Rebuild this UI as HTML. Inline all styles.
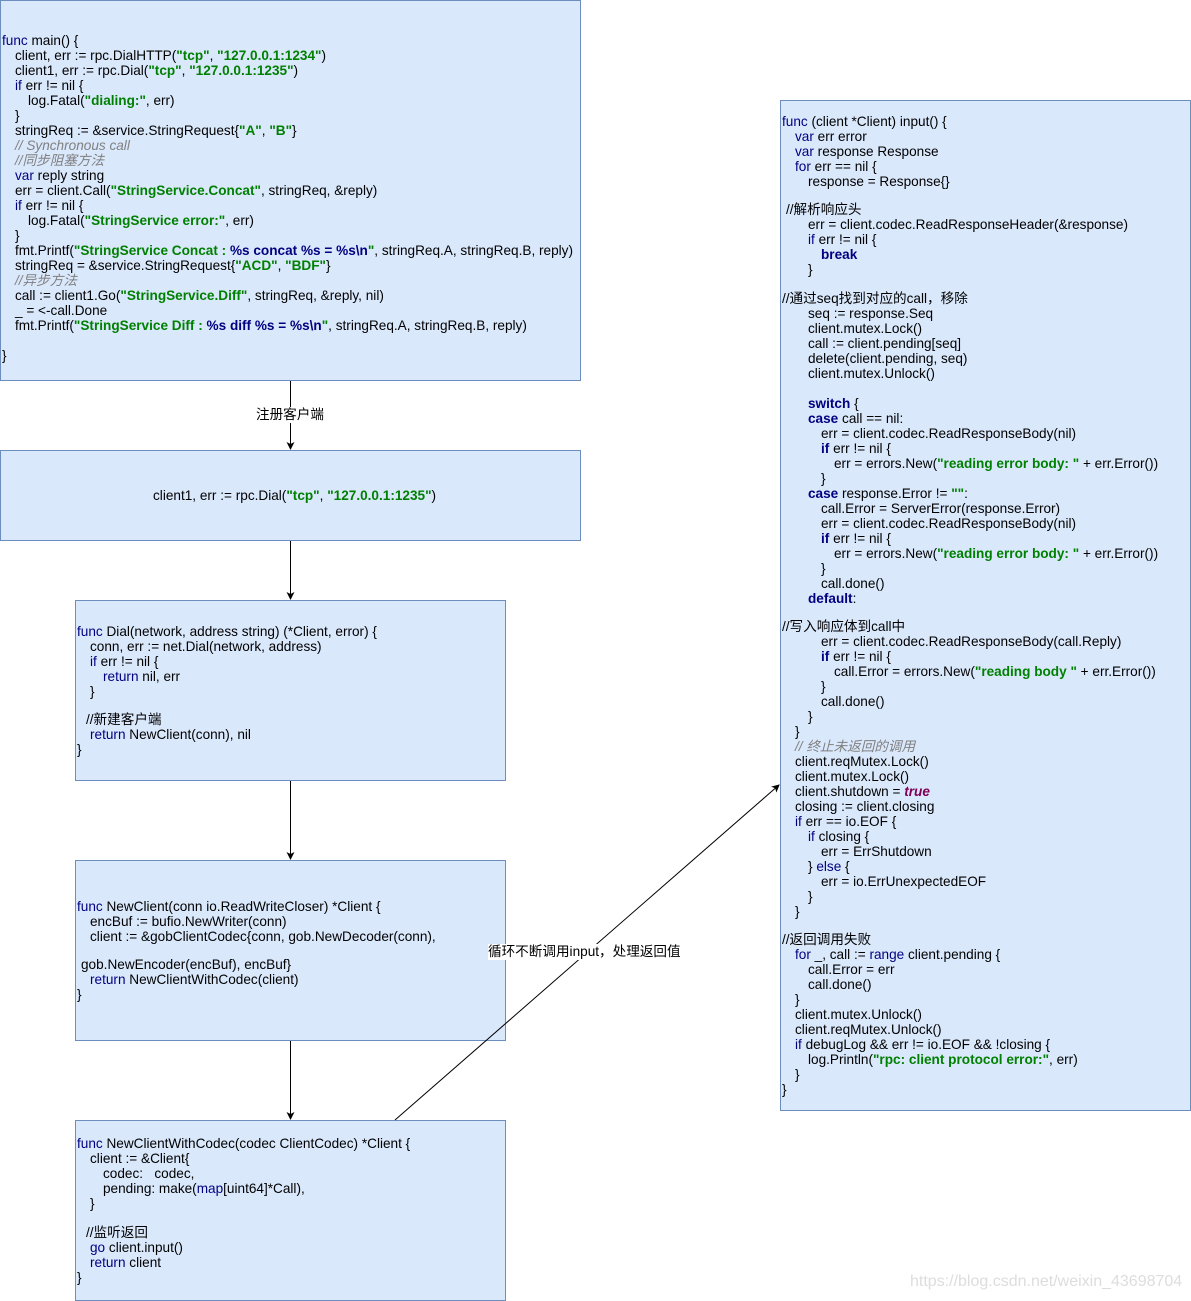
<!DOCTYPE html>
<html><head><meta charset="utf-8"><style>
body{margin:0;width:1191px;height:1301px;background:#fff;position:relative;overflow:hidden;font-family:"Liberation Sans","Noto Sans CJK SC",sans-serif;font-size:13.6px;color:#000}
.b{position:absolute;background:#dae8fc;border:1px solid #6c8ebf;box-sizing:border-box}
.l{position:absolute;white-space:pre;line-height:16px;height:16px;margin-top:1px}
.k{color:#000080}
.kb{color:#000080;font-weight:bold}
.s{color:#008000;font-weight:bold}
.f{color:#000080;font-weight:bold}
.c{color:#808080;font-style:italic}
.t{color:#7f0055;font-weight:bold;font-style:italic}
.lab{position:absolute;background:#fff;white-space:nowrap;line-height:16px;font-size:13.6px}
</style></head><body>
<div class="b" style="left:0;top:0;width:581px;height:381px"></div>
<div class="b" style="left:0;top:450px;width:581px;height:91px"></div>
<div class="b" style="left:75px;top:600px;width:431px;height:181px"></div>
<div class="b" style="left:75px;top:860px;width:431px;height:181px"></div>
<div class="b" style="left:75px;top:1120px;width:431px;height:181px"></div>
<div class="b" style="left:780px;top:100px;width:411px;height:1011px"></div>

<svg style="position:absolute;left:0;top:0" width="1191" height="1301">
<defs><marker id="a" markerWidth="8" markerHeight="8" refX="7" refY="4" orient="auto" markerUnits="userSpaceOnUse"><path d="M0,0 L8,4 L0,8 L2,4 z" fill="#000"/></marker></defs>
<g stroke="#000" stroke-width="1" fill="none">
<line x1="290.5" y1="381" x2="290.5" y2="449" marker-end="url(#a)"/>
<line x1="290.5" y1="541" x2="290.5" y2="599" marker-end="url(#a)"/>
<line x1="290.5" y1="781" x2="290.5" y2="859" marker-end="url(#a)"/>
<line x1="290.5" y1="1041" x2="290.5" y2="1119" marker-end="url(#a)"/>
<line x1="395" y1="1120" x2="779" y2="785" marker-end="url(#a)"/>
</g></svg>
<div class="lab" style="left:256px;top:407px">注册客户端</div>
<div class="lab" style="left:488px;top:944px">循环不断调用input，处理返回值</div>
<div class="l" style="left:910px;top:1273px;color:#ddd;font-size:16px">https://blog.csdn.net/weixin_43698704</div>

<!-- main -->
<div class="l" style="top:32px;left:2px"><span class="k">func</span> main() {</div>
<div class="l" style="top:47px;left:15px">client, err := rpc.DialHTTP(<span class="s">"tcp"</span>, <span class="s">"127.0.0.1:1234"</span>)</div>
<div class="l" style="top:62px;left:15px">client1, err := rpc.Dial(<span class="s">"tcp"</span>, <span class="s">"127.0.0.1:1235"</span>)</div>
<div class="l" style="top:77px;left:15px"><span class="k">if</span> err != nil {</div>
<div class="l" style="top:92px;left:28px">log.Fatal(<span class="s">"dialing:"</span>, err)</div>
<div class="l" style="top:107px;left:15px">}</div>
<div class="l" style="top:122px;left:15px">stringReq := &amp;service.StringRequest{<span class="s">"A"</span>, <span class="s">"B"</span>}</div>
<div class="l c" style="top:137px;left:15px">// Synchronous call</div>
<div class="l c" style="top:152px;left:15px">//同步阻塞方法</div>
<div class="l" style="top:167px;left:15px"><span class="k">var</span> reply string</div>
<div class="l" style="top:182px;left:15px">err = client.Call(<span class="s">"StringService.Concat"</span>, stringReq, &amp;reply)</div>
<div class="l" style="top:197px;left:15px"><span class="k">if</span> err != nil {</div>
<div class="l" style="top:212px;left:28px">log.Fatal(<span class="s">"StringService error:"</span>, err)</div>
<div class="l" style="top:227px;left:15px">}</div>
<div class="l" style="top:242px;left:15px">fmt.Printf(<span class="s">"StringService Concat : <span class="f">%s concat %s = %s\n</span>"</span>, stringReq.A, stringReq.B, reply)</div>
<div class="l" style="top:257px;left:15px">stringReq = &amp;service.StringRequest{<span class="s">"ACD"</span>, <span class="s">"BDF"</span>}</div>
<div class="l c" style="top:272px;left:15px">//异步方法</div>
<div class="l" style="top:287px;left:15px">call := client1.Go(<span class="s">"StringService.Diff"</span>, stringReq, &amp;reply, nil)</div>
<div class="l" style="top:302px;left:15px">_ = &lt;-call.Done</div>
<div class="l" style="top:317px;left:15px">fmt.Printf(<span class="s">"StringService Diff : <span class="f">%s diff %s = %s\n</span>"</span>, stringReq.A, stringReq.B, reply)</div>
<div class="l" style="top:347px;left:2px">}</div>

<!-- box2 -->
<div class="l" style="top:487px;left:153px">client1, err := rpc.Dial(<span class="s">"tcp"</span>, <span class="s">"127.0.0.1:1235"</span>)</div>

<!-- box3 -->
<div class="l" style="top:623px;left:77px"><span class="k">func</span> Dial(network, address string) (*Client, error) {</div>
<div class="l" style="top:638px;left:90px">conn, err := net.Dial(network, address)</div>
<div class="l" style="top:653px;left:90px"><span class="k">if</span> err != nil {</div>
<div class="l" style="top:668px;left:103px"><span class="k">return</span> nil, err</div>
<div class="l" style="top:683px;left:90px">}</div>
<div class="l" style="top:711px;left:86px">//新建客户端</div>
<div class="l" style="top:726px;left:90px"><span class="k">return</span> NewClient(conn), nil</div>
<div class="l" style="top:741px;left:77px">}</div>

<!-- box4 -->
<div class="l" style="top:898px;left:77px"><span class="k">func</span> NewClient(conn io.ReadWriteCloser) *Client {</div>
<div class="l" style="top:913px;left:90px">encBuf := bufio.NewWriter(conn)</div>
<div class="l" style="top:928px;left:90px">client := &amp;gobClientCodec{conn, gob.NewDecoder(conn),</div>
<div class="l" style="top:956px;left:81px">gob.NewEncoder(encBuf), encBuf}</div>
<div class="l" style="top:971px;left:90px"><span class="k">return</span> NewClientWithCodec(client)</div>
<div class="l" style="top:986px;left:77px">}</div>

<!-- box5 -->
<div class="l" style="top:1135px;left:77px"><span class="k">func</span> NewClientWithCodec(codec ClientCodec) *Client {</div>
<div class="l" style="top:1150px;left:90px">client := &amp;Client{</div>
<div class="l" style="top:1165px;left:103px">codec:   codec,</div>
<div class="l" style="top:1180px;left:103px">pending: make(<span class="k">map</span>[uint64]*Call),</div>
<div class="l" style="top:1195px;left:90px">}</div>
<div class="l" style="top:1224px;left:86px">//监听返回</div>
<div class="l" style="top:1239px;left:90px"><span class="k">go</span> client.input()</div>
<div class="l" style="top:1254px;left:90px"><span class="k">return</span> client</div>
<div class="l" style="top:1269px;left:77px">}</div>

<!-- right -->
<div class="l" style="top:113px;left:782px"><span class="k">func</span> (client *Client) input() {</div>
<div class="l" style="top:128px;left:795px"><span class="k">var</span> err error</div>
<div class="l" style="top:143px;left:795px"><span class="k">var</span> response Response</div>
<div class="l" style="top:158px;left:795px"><span class="k">for</span> err == nil {</div>
<div class="l" style="top:173px;left:808px">response = Response{}</div>
<div class="l" style="top:201px;left:786px">//解析响应头</div>
<div class="l" style="top:216px;left:808px">err = client.codec.ReadResponseHeader(&amp;response)</div>
<div class="l" style="top:231px;left:808px"><span class="k">if</span> err != nil {</div>
<div class="l" style="top:246px;left:821px"><span class="kb">break</span></div>
<div class="l" style="top:261px;left:808px">}</div>
<div class="l" style="top:290px;left:782px">//通过seq找到对应的call，移除</div>
<div class="l" style="top:305px;left:808px">seq := response.Seq</div>
<div class="l" style="top:320px;left:808px">client.mutex.Lock()</div>
<div class="l" style="top:335px;left:808px">call := client.pending[seq]</div>
<div class="l" style="top:350px;left:808px">delete(client.pending, seq)</div>
<div class="l" style="top:365px;left:808px">client.mutex.Unlock()</div>
<div class="l" style="top:395px;left:808px"><span class="kb">switch</span> {</div>
<div class="l" style="top:410px;left:808px"><span class="kb">case</span> call == nil:</div>
<div class="l" style="top:425px;left:821px">err = client.codec.ReadResponseBody(nil)</div>
<div class="l" style="top:440px;left:821px"><span class="kb">if</span> err != nil {</div>
<div class="l" style="top:455px;left:834px">err = errors.New(<span class="s">"reading error body: "</span> + err.Error())</div>
<div class="l" style="top:470px;left:821px">}</div>
<div class="l" style="top:485px;left:808px"><span class="kb">case</span> response.Error != <span class="s">""</span>:</div>
<div class="l" style="top:500px;left:821px">call.Error = ServerError(response.Error)</div>
<div class="l" style="top:515px;left:821px">err = client.codec.ReadResponseBody(nil)</div>
<div class="l" style="top:530px;left:821px"><span class="kb">if</span> err != nil {</div>
<div class="l" style="top:545px;left:834px">err = errors.New(<span class="s">"reading error body: "</span> + err.Error())</div>
<div class="l" style="top:560px;left:821px">}</div>
<div class="l" style="top:575px;left:821px">call.done()</div>
<div class="l" style="top:590px;left:808px"><span class="kb">default</span>:</div>
<div class="l" style="top:618px;left:782px">//写入响应体到call中</div>
<div class="l" style="top:633px;left:821px">err = client.codec.ReadResponseBody(call.Reply)</div>
<div class="l" style="top:648px;left:821px"><span class="kb">if</span> err != nil {</div>
<div class="l" style="top:663px;left:834px">call.Error = errors.New(<span class="s">"reading body "</span> + err.Error())</div>
<div class="l" style="top:678px;left:821px">}</div>
<div class="l" style="top:693px;left:821px">call.done()</div>
<div class="l" style="top:708px;left:808px">}</div>
<div class="l" style="top:723px;left:795px">}</div>
<div class="l c" style="top:738px;left:795px">// 终止未返回的调用</div>
<div class="l" style="top:753px;left:795px">client.reqMutex.Lock()</div>
<div class="l" style="top:768px;left:795px">client.mutex.Lock()</div>
<div class="l" style="top:783px;left:795px">client.shutdown = <span class="t">true</span></div>
<div class="l" style="top:798px;left:795px">closing := client.closing</div>
<div class="l" style="top:813px;left:795px"><span class="k">if</span> err == io.EOF {</div>
<div class="l" style="top:828px;left:808px"><span class="k">if</span> closing {</div>
<div class="l" style="top:843px;left:821px">err = ErrShutdown</div>
<div class="l" style="top:858px;left:808px">} <span class="k">else</span> {</div>
<div class="l" style="top:873px;left:821px">err = io.ErrUnexpectedEOF</div>
<div class="l" style="top:888px;left:808px">}</div>
<div class="l" style="top:903px;left:795px">}</div>
<div class="l" style="top:931px;left:782px">//返回调用失败</div>
<div class="l" style="top:946px;left:795px"><span class="k">for</span> _, call := <span class="k">range</span> client.pending {</div>
<div class="l" style="top:961px;left:808px">call.Error = err</div>
<div class="l" style="top:976px;left:808px">call.done()</div>
<div class="l" style="top:991px;left:795px">}</div>
<div class="l" style="top:1006px;left:795px">client.mutex.Unlock()</div>
<div class="l" style="top:1021px;left:795px">client.reqMutex.Unlock()</div>
<div class="l" style="top:1036px;left:795px"><span class="k">if</span> debugLog &amp;&amp; err != io.EOF &amp;&amp; !closing {</div>
<div class="l" style="top:1051px;left:808px">log.Println(<span class="s">"rpc: client protocol error:"</span>, err)</div>
<div class="l" style="top:1066px;left:795px">}</div>
<div class="l" style="top:1081px;left:782px">}</div>
</body></html>
